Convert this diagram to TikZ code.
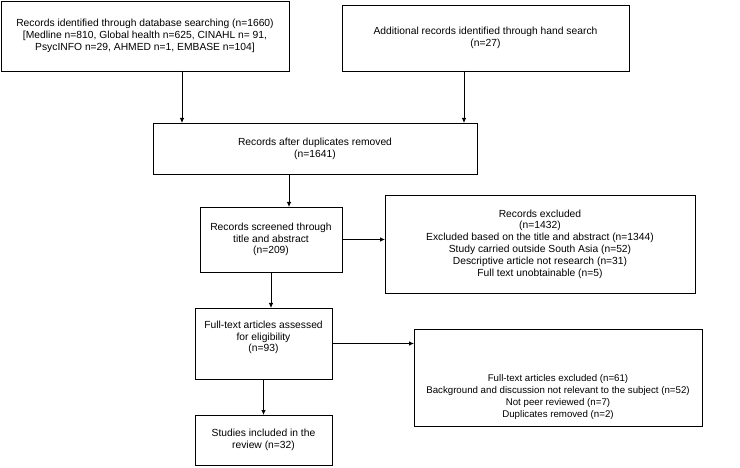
\documentclass[tikz,border=0pt]{standalone}
\usepackage{fontspec}
\setmainfont{Liberation Sans}
\usetikzlibrary{arrows.meta,calc}
\begin{document}
\begin{tikzpicture}[x=1pt,y=-1pt,
  box/.style={draw,line width=0.8pt,inner sep=0pt,outer sep=0pt,align=center,
    font=\fontsize{10.3}{11.8}\selectfont},
  txt/.style={inner sep=0pt,align=center,font=\fontsize{10.3}{11.8}\selectfont},
  arr/.style={line width=0.8pt,-{Latex[length=5pt,width=4.5pt]}}]
\useasboundingbox (0,0) rectangle (740,468);
\node[box,minimum width=288pt,minimum height=70pt] (b1) at (145,36)
  {Records identified through database searching (n=1660)\\{}%
   [Medline n=810, Global health n=625, CINAHL n= 91,\\
   PsycINFO n=29, AHMED n=1, EMBASE n=104]};
\node[box,minimum width=287pt,minimum height=66pt] (b2) at (485.5,38)
  {Additional records identified through hand search\\(n=27)};
\node[box,minimum width=324pt,minimum height=51pt] (b3) at (315,148.5)
  {Records after duplicates removed\\(n=1641)};
\node[box,minimum width=142pt,minimum height=65pt] (b4) at (271,239.5)
  {Records screened through\\title and abstract\\(n=209)};
\node[box,minimum width=310pt,minimum height=98pt] (b5) at (540,244)
  {Records excluded\\(n=1432)\\Excluded based on the title and abstract (n=1344)\\
   Study carried outside South Asia (n=52)\\Descriptive article not research (n=31)\\
   Full text unobtainable (n=5)};
\node[box,minimum width=137pt,minimum height=71pt] (b6) at (263.5,343.5) {};
\node[txt] (t6) at (263.5,337.5) {Full-text articles assessed\\for eligibility\\(n=93)};
\node[box,minimum width=288pt,minimum height=97pt] (b7) at (558,377.5) {};
\node[txt,font=\fontsize{9.7}{11.8}\selectfont] (t7) at (558,397) {Full-text articles excluded (n=61)\\
   Background and discussion not relevant to the subject (n=52)\\
   Not peer reviewed (n=7)\\Duplicates removed (n=2)};
\node[box,minimum width=137pt,minimum height=50pt] (b8) at (263.5,440)
  {Studies included in the\\review (n=32)};
\coordinate (c1) at (182,0);
\coordinate (c2) at (464,0);
\coordinate (c3) at (289,0);
\draw[arr] (c1 |- b1.south) -- (c1 |- b3.north);
\draw[arr] (c2 |- b2.south) -- (c2 |- b3.north);
\draw[arr] (c3 |- b3.south) -- (c3 |- b4.north);
\draw[arr] (b4.east) -- (b4.east -| b5.west);
\draw[arr] (b4.south) -- (b4.south |- b6.north);
\draw[arr] (b6.east) -- (b6.east -| b7.west);
\draw[arr] (b6.south) -- (b8.north);
\end{tikzpicture}
\end{document}
